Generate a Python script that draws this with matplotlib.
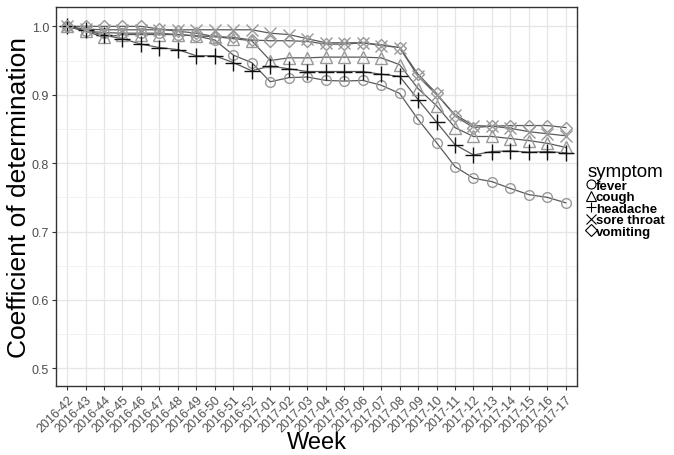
import numpy as np
import matplotlib
matplotlib.use("Agg")
import matplotlib.pyplot as plt

plt.rcParams['font.family'] = ['Liberation Sans', 'DejaVu Sans']

# -- DATA -------------------------------------------------------------------------
weeks = ["2016-42", "2016-43", "2016-44", "2016-45", "2016-46", "2016-47", "2016-48",
         "2016-49", "2016-50", "2016-51", "2016-52", "2017-01", "2017-02", "2017-03",
         "2017-04", "2017-05", "2017-06", "2017-07", "2017-08", "2017-09", "2017-10",
         "2017-11", "2017-12", "2017-13", "2017-14", "2017-15", "2017-16", "2017-17"]

fever = [1.0, 0.993, 0.991, 0.990, 0.990, 0.990, 0.988, 0.986, 0.980, 0.958, 0.947, 0.919,
         0.925, 0.926, 0.921, 0.920, 0.921, 0.914, 0.902, 0.864, 0.830, 0.795, 0.778, 0.773,
         0.763, 0.754, 0.750, 0.742]
cough = [1.0, 0.993, 0.984, 0.988, 0.988, 0.988, 0.988, 0.986, 0.985, 0.982, 0.979, 0.950,
         0.954, 0.954, 0.955, 0.955, 0.955, 0.954, 0.944, 0.909, 0.884, 0.852, 0.839, 0.839,
         0.836, 0.833, 0.829, 0.823]
headache = [1.0, 0.994, 0.987, 0.982, 0.974, 0.969, 0.966, 0.957, 0.957, 0.947, 0.935, 0.942,
            0.938, 0.934, 0.934, 0.934, 0.934, 0.930, 0.927, 0.893, 0.860, 0.827, 0.812, 0.817,
            0.818, 0.816, 0.817, 0.815]
sore_throat = [1.0, 0.996, 0.995, 0.995, 0.995, 0.995, 0.995, 0.995, 0.995, 0.995, 0.995, 0.990,
               0.988, 0.982, 0.976, 0.976, 0.976, 0.972, 0.969, 0.927, 0.900, 0.871, 0.855, 0.854,
               0.851, 0.846, 0.843, 0.840]
vomiting = [1.0, 1.0, 1.0, 1.0, 1.0, 0.996, 0.993, 0.990, 0.985, 0.984, 0.980, 0.979, 0.979,
            0.978, 0.974, 0.974, 0.976, 0.973, 0.969, 0.930, 0.902, 0.869, 0.852, 0.854, 0.855,
            0.855, 0.855, 0.852]

symptoms = ["fever", "cough", "headache", "sore throat", "vomiting"]
series = [fever, cough, headache, sore_throat, vomiting]

# -- STYLE ------------------------------------------------------------------------
markers = {"fever": "o", "cough": "^", "headache": "+", "sore throat": "x", "vomiting": "D"}
msizes = {"fever": 7, "cough": 8.5, "headache": 11, "sore throat": 8, "vomiting": 6.5}
mcolors = {"fever": "#999999", "cough": "#999999", "headache": "#111111",
           "sore throat": "#999999", "vomiting": "#999999"}

fig = plt.figure(figsize=(6.74, 4.56), dpi=100)
ax = fig.add_axes([0.083, 0.151, 0.773, 0.831])

x = np.arange(len(weeks))
for name, vals in zip(symptoms, series):
    ax.plot(x, vals, color="#5a5a5a", lw=0.9, zorder=2)
    ax.plot(x, vals, linestyle="none", marker=markers[name], markersize=msizes[name],
            markerfacecolor="none", markeredgecolor=mcolors[name], markeredgewidth=1.0,
            zorder=3)

# Legend handles (black symbols like the reference)
handles = [plt.Line2D([], [], linestyle="none", marker=markers[n], markersize=6.5,
                      markerfacecolor="none", markeredgecolor="black", markeredgewidth=0.8)
           for n in symptoms]
leg = ax.legend(handles, symptoms, title="symptom", loc="center left",
                bbox_to_anchor=(1.012, 0.49), frameon=False, handlelength=0.55,
                handletextpad=0.1, labelspacing=-0.05, borderpad=0.1, borderaxespad=0.2,
                prop={"weight": "bold", "size": 9.5}, title_fontsize=13.5)
leg._legend_box.align = "left"

ax.set_xlim(-0.6, len(weeks) - 0.4)
ax.set_ylim(0.474, 1.028)
ax.set_xticks(x)
ax.set_xticklabels(weeks, rotation=45, ha="right", rotation_mode="anchor",
                   fontsize=9, color="#4d4d4d")
ax.set_yticks([0.5, 0.6, 0.7, 0.8, 0.9, 1.0])
ax.set_yticklabels(["0.5", "0.6", "0.7", "0.8", "0.9", "1.0"], fontsize=9, color="#4d4d4d")
ax.set_yticks(np.arange(0.55, 1.0, 0.1), minor=True)
ax.grid(True, which="major", color="#e6e6e6", lw=0.9, zorder=0)
ax.grid(True, which="minor", axis="y", color="#f0f0f0", lw=0.6, zorder=0)
ax.set_axisbelow(True)
ax.tick_params(which="minor", length=0)
ax.tick_params(which="major", length=3, color="#333333", pad=2)
for s in ax.spines.values():
    s.set_color("#333333")
    s.set_linewidth(1.0)

ax.set_xlabel("Week", fontsize=17)
ax.xaxis.set_label_coords(0.5, -0.119)
ax.set_ylabel("Coefficient of determination", fontsize=19)
ax.yaxis.set_label_coords(-0.047, 0.5)

fig.savefig("out.png", dpi=100)
